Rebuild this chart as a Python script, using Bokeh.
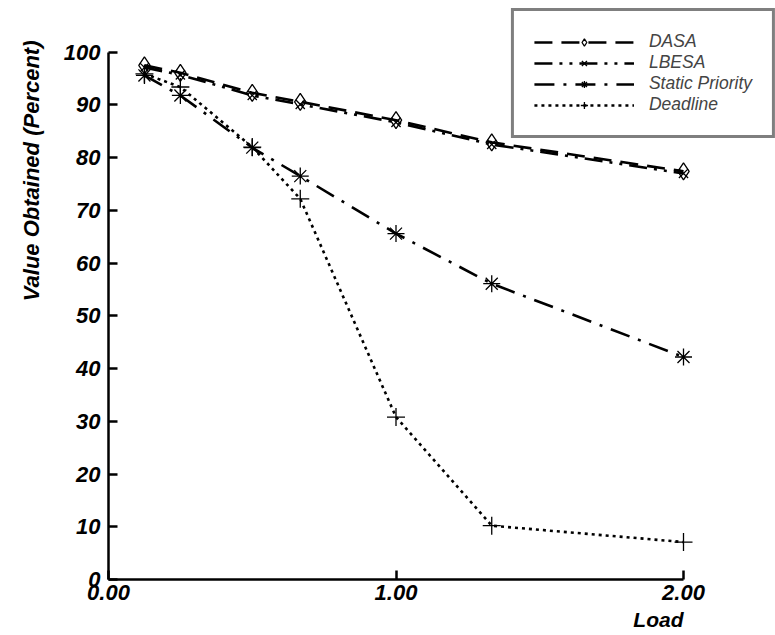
from bokeh.plotting import figure
from bokeh.models import Range1d, FixedTicker, Legend, LegendItem, Title
from bokeh.embed import file_html
from bokeh.resources import INLINE

# ---- data ----
load = [0.125, 0.25, 0.5, 0.667, 1.0, 1.333, 2.0]
dasa = [97.5, 96.1, 92.3, 90.6, 87.1, 82.9, 77.4]
lbesa = [97.1, 95.7, 91.8, 90.1, 86.7, 82.5, 77.0]
static_priority = [95.6, 91.8, 81.9, 76.5, 65.6, 56.1, 42.2]
deadline = [95.9, 93.4, 82.0, 72.2, 30.8, 10.2, 7.1]

x_ticks = [0, 1, 2]
x_tick_labels = ["0.00", "1.00", "2.00"]
y_ticks = [0, 10, 20, 30, 40, 50, 60, 70, 80, 90, 100]

FONT = "Liberation Sans"

p = figure(width=775, height=635, output_backend="svg", toolbar_location=None,
           x_range=Range1d(0, 2.320), y_range=Range1d(0, 108.29),
           min_border_left=106, min_border_bottom=56, min_border_top=8,
           min_border_right=0)
p.outline_line_color = None
p.xgrid.visible = False
p.ygrid.visible = False
p.background_fill_color = "white"
p.border_fill_color = "white"

for ax in (p.xaxis[0], p.yaxis[0]):
    ax.axis_line_width = 2.5
    ax.axis_line_color = "black"
    ax.major_tick_line_width = 2.5
    ax.major_tick_line_color = "black"
    ax.major_tick_in = 9
    ax.major_tick_out = 0
    ax.minor_tick_line_color = None
    ax.major_label_text_font = FONT
    ax.major_label_text_font_style = "bold italic"
    ax.major_label_text_font_size = "22px"
    ax.major_label_text_color = "black"

p.xaxis.bounds = (0, 2)
p.yaxis.bounds = (0, 100)
p.xaxis.ticker = FixedTicker(ticks=x_ticks)
p.yaxis.ticker = FixedTicker(ticks=y_ticks)
p.xaxis.major_label_overrides = {t: s for t, s in zip(x_ticks, x_tick_labels)}
p.xaxis.major_label_standoff = 5
p.yaxis.major_label_standoff = 8

# ---- series ----
lw = 2.6
l1 = p.line(load, dasa, line_color="black", line_width=lw, line_dash="18 9")
m1 = p.scatter(load, dasa, marker="diamond", size=17, line_color="black",
               fill_alpha=0, line_width=1.3)
l2 = p.line(load, lbesa, line_color="black", line_width=lw, line_dash="18 7 3 7 3 7")
m2 = p.scatter(load, lbesa, marker="x", size=13, line_color="black", line_width=1.3)
l3 = p.line(load, static_priority, line_color="black", line_width=lw, line_dash="20 9 3 9")
m3 = p.scatter(load, static_priority, marker="asterisk", size=17, line_color="black",
               line_width=1.3)
l4 = p.line(load, deadline, line_color="black", line_width=lw, line_dash="3 4")
m4 = p.scatter(load, deadline, marker="cross", size=18, line_color="black", line_width=1.3)

legend = Legend(items=[
    LegendItem(label="DASA", renderers=[l1, m1]),
    LegendItem(label="LBESA", renderers=[l2, m2]),
    LegendItem(label="Static Priority", renderers=[l3, m3]),
    LegendItem(label="Deadline", renderers=[l4, m4]),
])
legend.location = "top_right"
legend.margin = 0
legend.padding = 20
legend.spacing = 0
legend.glyph_width = 100
legend.glyph_height = 18
legend.label_height = 18
legend.label_width = 0
legend.label_standoff = 15
legend.label_text_font = FONT
legend.label_text_font_style = "italic"
legend.label_text_font_size = "17.5px"
legend.border_line_color = "black"
legend.border_line_width = 3
legend.background_fill_color = "white"
legend.background_fill_alpha = 1
p.add_layout(legend, "center")

# ---- axis titles ----
ytitle = Title(text="Value Obtained (Percent)", align="right", offset=32,
               text_font=FONT, text_font_style="bold italic",
               text_font_size="22px", text_color="black", standoff=33)
xtitle = Title(text="Load", align="right", offset=92,
               text_font=FONT, text_font_style="bold italic",
               text_font_size="21px", text_color="black", standoff=6)
p.add_layout(ytitle, "left")
p.add_layout(xtitle, "below")

open("out.html", "w").write(file_html(p, INLINE))
